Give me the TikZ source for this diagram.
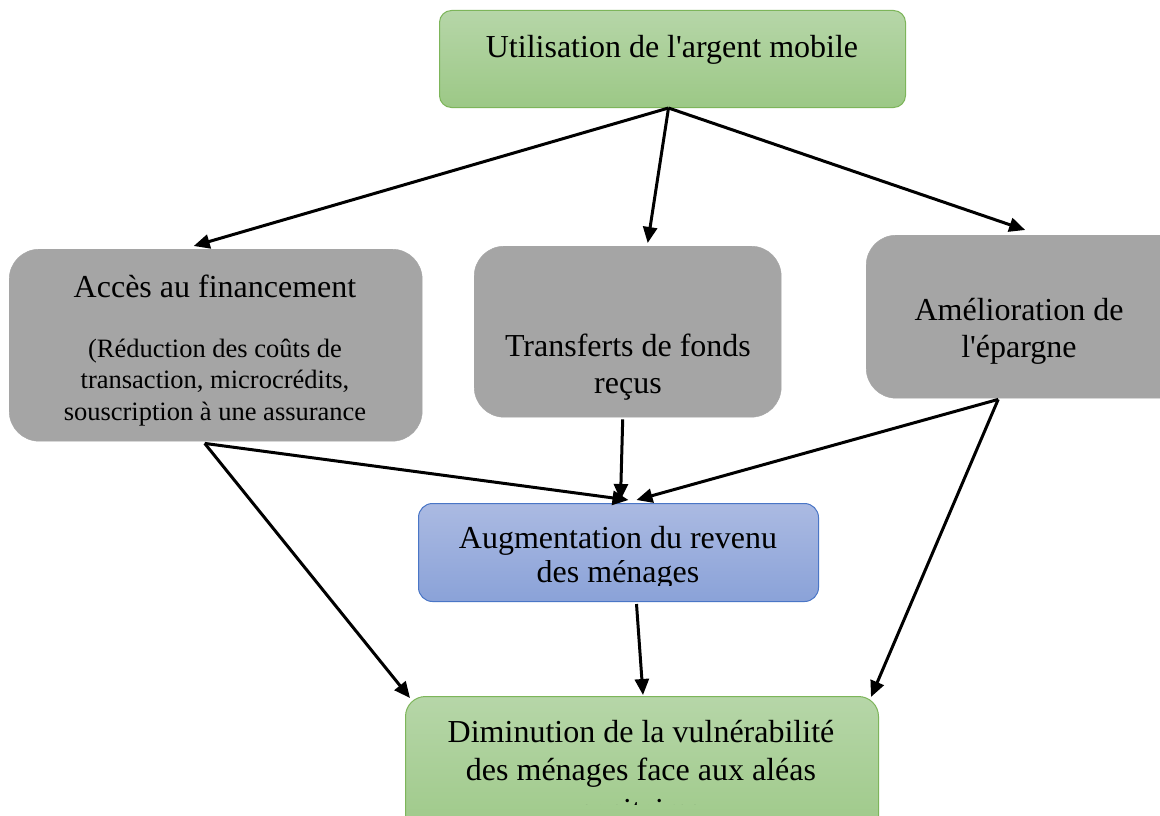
\documentclass[tikz,border=0pt]{standalone}
\usepackage{fontspec}
\setmainfont{Liberation Serif}
\usetikzlibrary{arrows.meta}
\definecolor{grtop}{HTML}{B6D6A8}
\definecolor{grbot}{HTML}{9CC886}
\definecolor{grline}{HTML}{7DB55A}
\definecolor{graybox}{HTML}{A5A5A5}
\definecolor{bltop}{HTML}{ABBAE2}
\definecolor{blbot}{HTML}{8AA2D8}
\definecolor{blline}{HTML}{4A76C6}
\tikzset{
  greenbox/.style={draw=grline, line width=1pt, top color=grtop, bottom color=grbot, anchor=north west, inner sep=0pt},
  graybx/.style={draw=graybox, fill=graybox, rounded corners=30pt, anchor=north west, inner sep=0pt},
  bluebox/.style={draw=blline, line width=1pt, top color=bltop, bottom color=blbot, rounded corners=14pt, anchor=north west, inner sep=0pt},
  big/.style={font=\fontsize{32}{38}\selectfont, anchor=base, inner sep=0pt},
  small/.style={font=\fontsize{26.5}{32}\selectfont, anchor=base, inner sep=0pt},
  arr/.style={line width=3pt, -{Triangle[length=16pt,width=14pt]}}
}
\begin{document}
\begin{tikzpicture}[x=1pt,y=-1pt]
\clip (0,0) rectangle (1160,816);
\fill[white] (0,0) rectangle (1160,816);
% boxes
\node[greenbox, rounded corners=12pt, minimum width=466pt, minimum height=97pt] (usage) at (439,10) {};
\node[graybx, minimum width=413pt, minimum height=192pt] (acc) at (9,249) {};
\node[graybx, minimum width=307pt, minimum height=171pt] (mid) at (474,246) {};
\node[graybx, minimum width=330pt, minimum height=163pt] (epar) at (866,235) {};
\node[bluebox, minimum width=400pt, minimum height=98pt] (rev) at (418,503) {};
\node[greenbox, rounded corners=20pt, minimum width=473pt, minimum height=150pt] (vul) at (405,696) {};
% texts
\node[big] (t1) at (672,58) {Utilisation de l\textquotesingle argent mobile};
\node[big] (t2) at (215,297) {Accès au financement};
\node[small] (t3) at (215,357) {(Réduction des coûts de};
\node[small] (t4) at (215,388) {transaction, microcrédits,};
\node[small] (t5) at (215,420) {souscription à une assurance};
\node[big] (t6) at (628,356) {Transferts de fonds};
\node[big] (t7) at (628,393) {reçus};
\node[big] (t8) at (1019,320) {Amélioration de};
\node[big] (t9) at (1019,357) {l\textquotesingle épargne};
\node[big] (t10) at (618,548) {Augmentation du revenu};
\begin{scope}
\clip (418,560) rectangle (818,585);
\node[big] (t11) at (618,582) {des ménages};
\end{scope}
\node[big] (t12) at (641,742) {Diminution de la vulnérabilité};
\node[big] (t13) at (641,780) {des ménages face aux aléas};
\begin{scope}
\clip (405,790) rectangle (878,804);
\node[big] (t14) at (641,820.5) {sanitaires};
\end{scope}
% arrows
\draw[arr] ([xshift=-4pt]usage.south) -- ([xshift=-22pt,yshift=3pt]acc.north);
\draw[arr] ([xshift=-4pt]usage.south) -- ([xshift=20pt,yshift=3pt]mid.north);
\draw[arr] ([xshift=-4pt]usage.south) -- ([xshift=-6pt,yshift=5pt]epar.north);
\draw[arr] ([xshift=-11pt,yshift=-2pt]acc.south) -- ([xshift=10pt,yshift=3pt]rev.north);
\draw[arr] ([xshift=-11pt,yshift=-2pt]acc.south) -- ([xshift=5pt,yshift=-2pt]vul.north west);
\draw[arr] ([xshift=-5pt,yshift=-2pt]mid.south) -- ([xshift=2pt,yshift=3pt]rev.north);
\draw[arr] ([xshift=-33pt,yshift=-1pt]epar.south) -- ([xshift=18pt,yshift=3pt]rev.north);
\draw[arr] ([xshift=-33pt,yshift=-1pt]epar.south) -- ([xshift=-8pt,yshift=-1pt]vul.north east);
\draw[arr] ([xshift=18pt,yshift=-2pt]rev.south) -- ([xshift=1pt,yshift=1pt]vul.north);
\end{tikzpicture}
\end{document}
